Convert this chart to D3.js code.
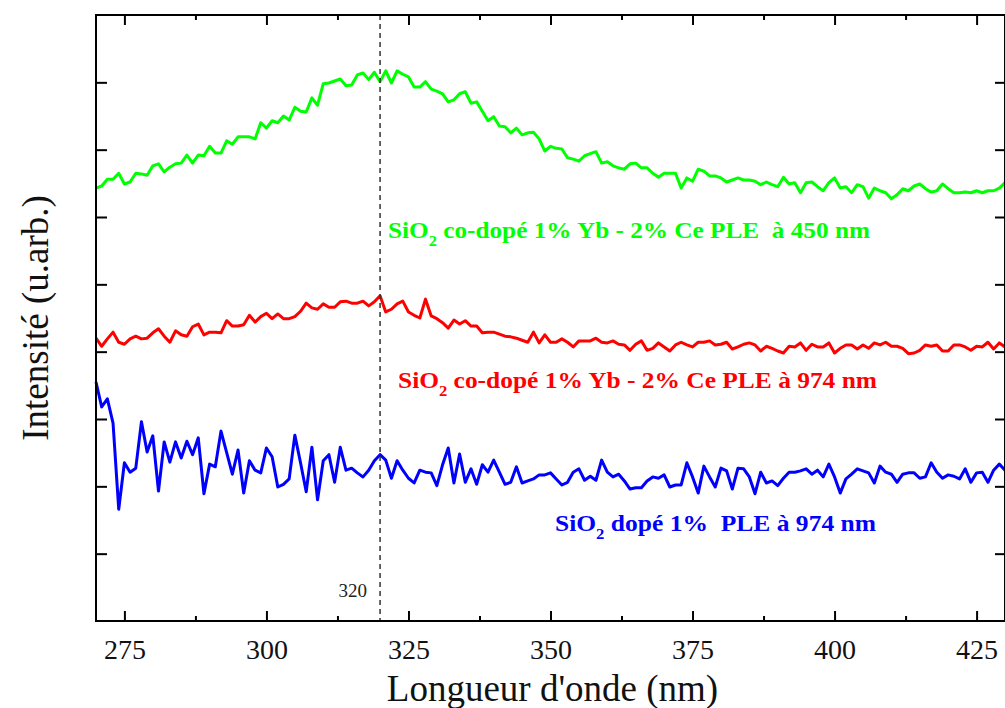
<!DOCTYPE html>
<html>
<head>
<meta charset="utf-8">
<script src="https://cdn.jsdelivr.net/npm/d3@7"></script>
<style>
  body { margin: 0; background: #fff; }
  svg text { white-space: pre; }
</style>
</head>
<body>
<svg id="chart"></svg>
<script>
const width = 1005;
const height = 708;
const serif = "'Liberation Serif', 'Times New Roman', 'DejaVu Serif', serif";

// wavelength axis, 1 nm step
const wavelength = d3.range(270, 431);

// PLE at 450 nm, SiO2 co-doped 1% Yb - 2% Ce
const greenValues = [
  6.43, 6.46, 6.56, 6.56, 6.65, 6.49, 6.52, 6.65, 6.64, 6.62,
  6.76, 6.79, 6.67, 6.74, 6.79, 6.80, 6.92, 6.80, 6.92, 6.91,
  7.05, 6.95, 6.95, 7.13, 7.08, 7.19, 7.19, 7.19, 7.16, 7.40,
  7.32, 7.43, 7.40, 7.50, 7.44, 7.63, 7.57, 7.56, 7.77, 7.66,
  7.98, 7.99, 8.02, 8.05, 7.95, 7.96, 8.11, 8.14, 8.04, 8.15,
  8.01, 8.17, 7.99, 8.17, 8.12, 8.08, 7.93, 7.93, 8.01, 7.90,
  7.87, 7.83, 7.71, 7.74, 7.83, 7.86, 7.69, 7.71, 7.57, 7.43,
  7.49, 7.35, 7.34, 7.25, 7.32, 7.22, 7.25, 7.26, 7.16, 6.98,
  7.05, 7.02, 7.01, 6.88, 6.86, 6.83, 6.91, 6.94, 6.97, 6.80,
  6.82, 6.76, 6.73, 6.71, 6.79, 6.80, 6.73, 6.73, 6.65, 6.59,
  6.65, 6.65, 6.65, 6.43, 6.58, 6.53, 6.71, 6.68, 6.61, 6.61,
  6.58, 6.52, 6.55, 6.58, 6.55, 6.55, 6.53, 6.48, 6.52, 6.48,
  6.45, 6.59, 6.49, 6.51, 6.36, 6.51, 6.52, 6.45, 6.39, 6.51,
  6.58, 6.43, 6.45, 6.36, 6.48, 6.45, 6.28, 6.43, 6.39, 6.36,
  6.27, 6.33, 6.42, 6.39, 6.46, 6.49, 6.42, 6.37, 6.39, 6.49,
  6.42, 6.36, 6.36, 6.37, 6.36, 6.39, 6.36, 6.39, 6.39, 6.43,
  6.51
];

// PLE at 974 nm, SiO2 co-doped 1% Yb - 2% Ce
const redValues = [
  4.20, 4.08, 4.19, 4.29, 4.14, 4.11, 4.19, 4.23, 4.19, 4.20,
  4.28, 4.34, 4.23, 4.14, 4.31, 4.25, 4.23, 4.37, 4.41, 4.25,
  4.29, 4.29, 4.28, 4.46, 4.38, 4.38, 4.40, 4.54, 4.44, 4.52,
  4.57, 4.49, 4.56, 4.49, 4.49, 4.52, 4.60, 4.72, 4.65, 4.63,
  4.71, 4.66, 4.66, 4.74, 4.75, 4.72, 4.72, 4.75, 4.68, 4.74,
  4.83, 4.59, 4.63, 4.71, 4.75, 4.59, 4.54, 4.50, 4.78, 4.53,
  4.49, 4.43, 4.35, 4.47, 4.41, 4.46, 4.38, 4.38, 4.28, 4.29,
  4.29, 4.26, 4.23, 4.22, 4.20, 4.17, 4.14, 4.29, 4.13, 4.25,
  4.14, 4.14, 4.19, 4.14, 4.07, 4.16, 4.16, 4.16, 4.20, 4.14,
  4.13, 4.16, 4.11, 4.10, 4.02, 4.11, 4.16, 4.02, 4.05, 4.13,
  4.07, 4.01, 4.10, 4.14, 4.10, 4.07, 4.14, 4.14, 4.16, 4.10,
  4.11, 4.14, 4.04, 4.07, 4.11, 4.13, 4.10, 4.01, 4.08, 4.05,
  4.01, 3.98, 4.08, 4.07, 4.13, 4.02, 4.11, 4.07, 4.07, 4.13,
  3.98, 4.05, 4.10, 4.10, 4.04, 4.10, 4.05, 4.13, 4.10, 4.14,
  4.08, 4.08, 4.05, 3.97, 3.98, 4.02, 4.10, 4.08, 4.10, 4.01,
  4.01, 4.10, 4.10, 4.07, 4.02, 4.08, 4.07, 4.14, 4.04, 4.13,
  4.07
];

// PLE at 974 nm, SiO2 doped 1%
const blueValues = [
  3.55, 3.18, 3.30, 2.94, 1.66, 2.35, 2.21, 2.27, 2.96, 2.51,
  2.75, 1.93, 2.66, 2.36, 2.66, 2.42, 2.67, 2.47, 2.72, 1.89,
  2.33, 2.29, 2.82, 2.50, 2.18, 2.54, 1.90, 2.38, 2.24, 2.20,
  2.57, 2.44, 1.99, 2.03, 2.11, 2.76, 2.35, 1.92, 2.58, 1.80,
  2.38, 2.47, 2.06, 2.58, 2.24, 2.27, 2.20, 2.14, 2.24, 2.38,
  2.47, 2.39, 2.12, 2.38, 2.24, 2.12, 2.05, 2.24, 2.21, 2.20,
  2.01, 2.32, 2.57, 2.05, 2.48, 2.06, 2.26, 2.03, 2.32, 2.21,
  2.39, 2.21, 2.03, 2.06, 2.29, 2.05, 2.08, 2.11, 2.17, 2.17,
  2.20, 2.11, 2.02, 2.06, 2.21, 2.26, 2.09, 2.15, 2.09, 2.39,
  2.21, 2.14, 2.18, 2.08, 1.96, 1.98, 1.98, 2.08, 2.14, 2.12,
  2.17, 1.99, 2.02, 2.02, 2.35, 2.14, 1.90, 2.30, 2.14, 1.99,
  2.27, 2.23, 1.96, 2.27, 2.26, 2.14, 1.89, 2.21, 2.05, 2.08,
  2.01, 2.12, 2.21, 2.21, 2.23, 2.26, 2.18, 2.24, 2.14, 2.33,
  2.14, 1.90, 2.11, 2.18, 2.26, 2.23, 2.20, 2.05, 2.30, 2.21,
  2.18, 2.06, 2.18, 2.20, 2.20, 2.12, 2.14, 2.35, 2.21, 2.12,
  2.17, 2.15, 2.11, 2.26, 2.06, 2.20, 2.21, 2.06, 2.24, 2.33,
  2.24
];

const xMajorTicks = [275, 300, 325, 350, 375, 400, 425];
const xMinorTicks = [287.5, 312.5, 337.5, 362.5, 387.5, 412.5];
const yTicks = [1, 2, 3, 4, 5, 6, 7, 8];
const markerWavelength = 320;

const series = [
  { values: greenValues, color: "#00ff00",
    label: ["SiO", "2", " co-dopé 1% Yb - 2% Ce PLE  à 450 nm"], lx: 388, ly: 238, len: 482 },
  { values: redValues, color: "#ff0000",
    label: ["SiO", "2", " co-dopé 1% Yb - 2% Ce PLE à 974 nm"], lx: 398, ly: 388, len: 479 },
  { values: blueValues, color: "#0000ff",
    label: ["SiO", "2", " dopé 1%  PLE à 974 nm"], lx: 555, ly: 531, len: 321 }
];

const margin = { top: 15, right: 0, bottom: 87, left: 96 };
const innerW = width - margin.left - margin.right;
const innerH = height - margin.top - margin.bottom;

const svg = d3.select("#chart")
  .attr("width", width)
  .attr("height", height)
  .attr("viewBox", [0, 0, width, height])
  .style("font-family", serif);

const x = d3.scaleLinear().domain([270, 430]).range([margin.left, margin.left + innerW]);
const y = d3.scaleLinear().domain([0, 9]).range([margin.top + innerH, margin.top]);

// curves
const line = d3.line()
  .x((d, i) => x(wavelength[i]))
  .y(d => y(d));

svg.append("g")
  .selectAll("path")
  .data(series)
  .join("path")
  .attr("fill", "none")
  .attr("stroke", d => d.color)
  .attr("stroke-width", 3)
  .attr("stroke-linejoin", "round")
  .attr("d", d => line(d.values));

// dashed marker at 320 nm
svg.append("line")
  .attr("x1", x(markerWavelength)).attr("x2", x(markerWavelength))
  .attr("y1", y(9)).attr("y2", y(0))
  .attr("stroke", "#333")
  .attr("stroke-width", 1.5)
  .attr("stroke-dasharray", "5,4");

svg.append("text")
  .attr("x", x(markerWavelength) - 13)
  .attr("y", 597)
  .attr("text-anchor", "end")
  .style("font-family", serif)
  .attr("font-size", 19)
  .attr("fill", "#222")
  .text(markerWavelength);

// axes: ticks point inward, no domain path (frame drawn separately)
function styleAxis(g) {
  g.select(".domain").remove();
  g.selectAll(".tick line").attr("stroke", "#000").attr("stroke-width", 2);
}

const yBottom = y(0), yTop = y(9), xLeft = x(270), xRight = x(430);

svg.append("g")
  .attr("transform", `translate(0,${yBottom})`)
  .call(d3.axisBottom(x).tickValues(xMajorTicks).tickSize(-10).tickPadding(18).tickFormat(d3.format("d")))
  .call(styleAxis)
  .call(g => g.selectAll("text")
    .attr("font-size", 28)
    .style("font-family", serif)
    .attr("fill", "#111"));

svg.append("g")
  .attr("transform", `translate(0,${yBottom})`)
  .call(d3.axisBottom(x).tickValues(xMinorTicks).tickSize(-5).tickFormat(""))
  .call(styleAxis)
  .call(g => g.selectAll("text").remove());

svg.append("g")
  .attr("transform", `translate(0,${yTop})`)
  .call(d3.axisTop(x).tickValues(xMajorTicks).tickSize(-10).tickFormat(""))
  .call(styleAxis)
  .call(g => g.selectAll("text").remove());

svg.append("g")
  .attr("transform", `translate(0,${yTop})`)
  .call(d3.axisTop(x).tickValues(xMinorTicks).tickSize(-5).tickFormat(""))
  .call(styleAxis)
  .call(g => g.selectAll("text").remove());

svg.append("g")
  .attr("transform", `translate(${xLeft},0)`)
  .call(d3.axisLeft(y).tickValues(yTicks).tickSize(-11).tickFormat(""))
  .call(styleAxis)
  .call(g => g.selectAll("text").remove());

svg.append("g")
  .attr("transform", `translate(${xRight},0)`)
  .call(d3.axisRight(y).tickValues(yTicks).tickSize(-10).tickFormat(""))
  .call(styleAxis)
  .call(g => g.selectAll("text").remove());

// frame
svg.append("rect")
  .attr("x", xLeft).attr("y", yTop)
  .attr("width", xRight - xLeft).attr("height", yBottom - yTop)
  .attr("fill", "none")
  .attr("stroke", "#000")
  .attr("stroke-width", 2);

// series labels with SiO2 subscript
const labels = svg.append("g")
  .selectAll("text")
  .data(series)
  .join("text")
  .attr("x", d => d.lx)
  .attr("y", d => d.ly)
  .attr("fill", d => d.color)
  .style("font-family", serif)
  .attr("font-size", 23)
  .attr("font-weight", "bold")
  .attr("textLength", d => d.len)
  .attr("lengthAdjust", "spacingAndGlyphs");

labels.append("tspan").text(d => d.label[0]);
labels.append("tspan").attr("dy", 8).attr("font-size", 15).text(d => d.label[1]);
labels.append("tspan").attr("dy", -8).text(d => d.label[2]);

// axis titles
svg.append("text")
  .attr("x", (xLeft + xRight) / 2 + 2)
  .attr("y", 701)
  .attr("text-anchor", "middle")
  .style("font-family", serif)
  .attr("font-size", 37)
  .attr("fill", "#111")
  .text("Longueur d'onde (nm)");

svg.append("text")
  .attr("transform", `translate(48,${(yTop + yBottom) / 2}) rotate(-90)`)
  .attr("text-anchor", "middle")
  .style("font-family", serif)
  .attr("font-size", 37)
  .attr("fill", "#111")
  .text("Intensité (u.arb.)");
</script>
</body>
</html>
